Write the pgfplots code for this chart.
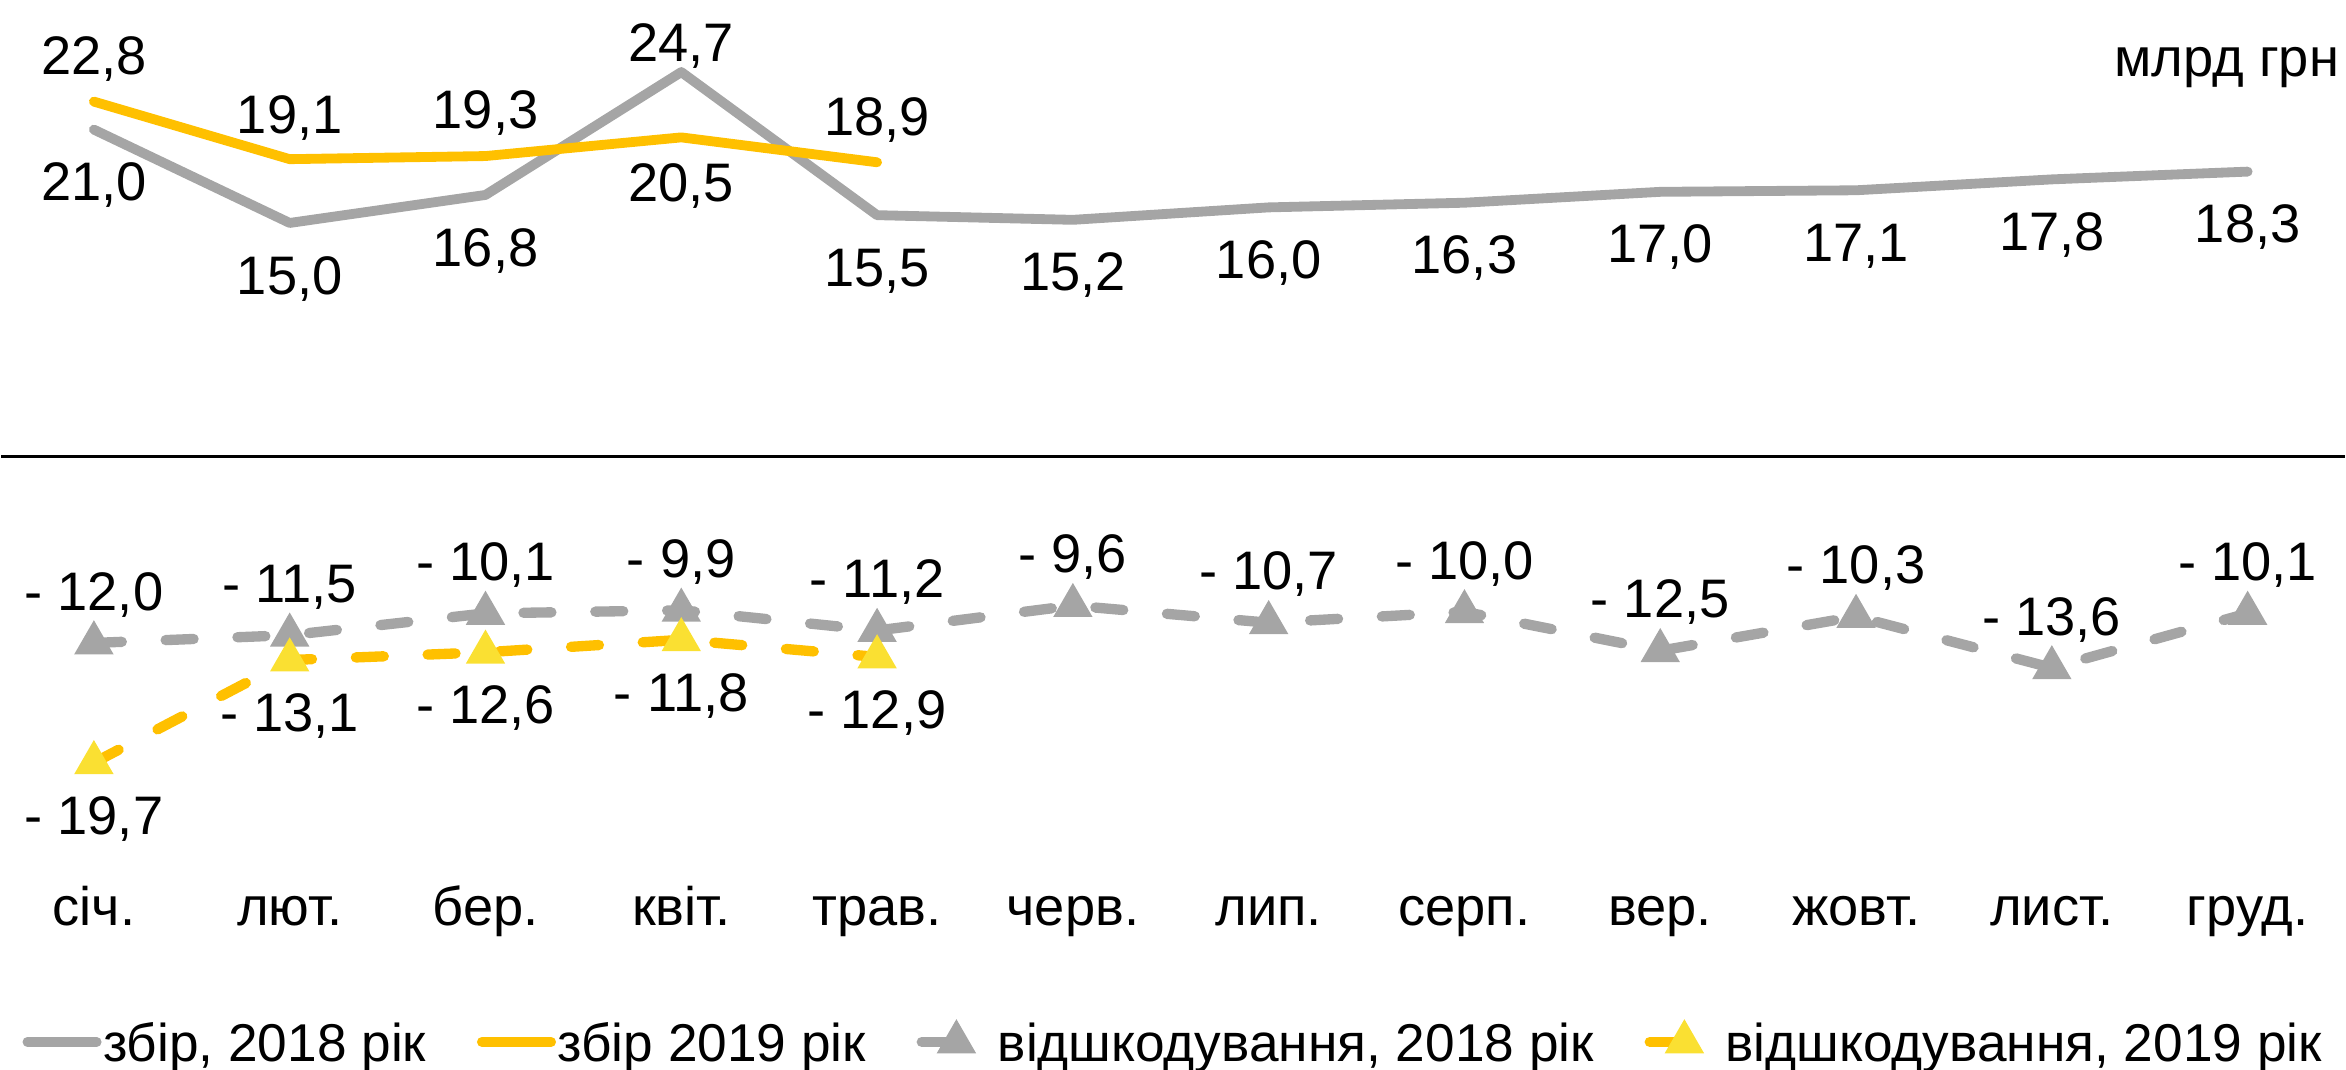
\documentclass[border=0pt]{standalone}
\usepackage{fontspec}
\setmainfont{Liberation Sans}
\usepackage{pgfplots}
\usepackage{pgfplotstable}
\pgfplotsset{compat=1.18}

\definecolor{cgray}{RGB}{165,165,165}
\definecolor{corange}{RGB}{255,192,0}
\definecolor{cyellow}{RGB}{250,224,50}

% x; value; label; label shift (pt, baseline)
\pgfplotstableread[col sep=semicolon]{
x;y;lab;dy
0;21.0;21,0;-13.76
1;15.0;15,0;-13.76
2;16.8;16,8;-13.76
3;24.7;24,7;2.04
4;15.5;15,5;-13.76
5;15.2;15,2;-13.76
6;16.0;16,0;-13.76
7;16.3;16,3;-13.76
8;17.0;17,0;-13.76
9;17.1;17,1;-13.76
10;17.8;17,8;-13.76
11;18.3;18,3;-13.76
}\zbirA

\pgfplotstableread[col sep=semicolon]{
x;y;lab;dy
0;22.8;22,8;5.24
1;19.1;19,1;4.9
2;19.3;19,3;5.24
3;20.5;20,5;-12.46
4;18.9;18,9;5.24
}\zbirB

\pgfplotstableread[col sep=semicolon]{
x;y;lab;dy
0;-12.0;- 12,0;6.34
1;-11.5;- 11,5;6.34
2;-10.1;- 10,1;6.34
3;-9.9;- 9,9;6.34
4;-11.2;- 11,2;6.34
5;-9.6;- 9,6;6.34
6;-10.7;- 10,7;6.34
7;-10.0;- 10,0;6.34
8;-12.5;- 12,5;6.34
9;-10.3;- 10,3;6.34
10;-13.6;- 13,6;6.34
11;-10.1;- 10,1;6.34
}\vidA

\pgfplotstableread[col sep=semicolon]{
x;y;lab;dy
0;-19.7;- 19,7;-13.86
1;-13.1;- 13,1;-13.86
2;-12.6;- 12,6;-13.86
3;-11.8;- 11,8;-13.86
4;-12.9;- 12,9;-13.86
}\vidB

\pgfplotsset{
  labs/.style={
    point meta=explicit symbolic,
    nodes near coords,
    visualization depends on={\thisrow{dy} \as \dy},
    every node near coord/.append style={anchor=base, yshift=\dy pt, text=black},
  },
}

\begin{document}
\begin{tikzpicture}[font=\fontsize{10.5}{12.6}\selectfont]
\begin{axis}[
  scale only axis,
  width=453.5pt, height=206.8pt,
  xmin=-0.473, xmax=11.496,
  ymin=-39.4, ymax=29.3,
  axis line style={draw=none},
  major tick length=0pt,
  ytick=\empty,
  xtick={0,...,11},
  xticklabels={січ.,лют.,бер.,квіт.,трав.,черв.,лип.,серп.,вер.,жовт.,лист.,груд.},
  xticklabel style={anchor=base, yshift=27.8pt},
  extra y ticks={0},
  extra y tick labels={},
  extra y tick style={grid=major, major grid style={black, line width=0.5pt},
    yticklabel style={overlay}},
  legend columns=4,
  legend style={at={(0.5,0)}, anchor=south, yshift=1.3pt,
    draw=none, fill=none, inner sep=0pt,
    font=\fontsize{10.3}{12.4}\selectfont,
    /tikz/every even column/.append style={column sep=9.5pt},
    nodes={inner xsep=0.3pt, inner ysep=0pt, text depth=0pt}},
  legend image code/.code={
    \draw[mark repeat=2, mark phase=2, #1]
      plot coordinates {(0pt,0pt) (6.7pt,0pt) (13.4pt,0pt)};},
]
\addplot[cgray, line width=1.9pt, line join=round, line cap=round, no markers, labs]
  table[x=x, y=y, meta=lab] {\zbirA};
\addlegendentry{збір, 2018 рік}

\addplot[corange, line width=1.9pt, line join=round, line cap=round, no markers, labs]
  table[x=x, y=y, meta=lab] {\zbirB};
\addlegendentry{збір 2019 рік}

\addplot[cgray, line width=2pt, line cap=round, dash pattern=on 5.4pt off 8.5pt,
  mark=triangle*, mark size=2.4pt, mark options={solid, fill=cgray, draw=cgray}, labs]
  table[x=x, y=y, meta=lab] {\vidA};
\addlegendentry{відшкодування, 2018 рік}

\addplot[corange, line width=2pt, line cap=round, dash pattern=on 5.4pt off 8.5pt,
  mark=triangle*, mark size=2.4pt, mark options={solid, fill=cyellow, draw=cyellow}, labs]
  table[x=x, y=y, meta=lab] {\vidB};
\addlegendentry{відшкодування, 2019 рік}

\node[anchor=base east, inner sep=0pt, xshift=-0.9pt, yshift=-14.7pt] at (rel axis cs:1,1) {млрд грн};
\end{axis}
\end{tikzpicture}
\end{document}
